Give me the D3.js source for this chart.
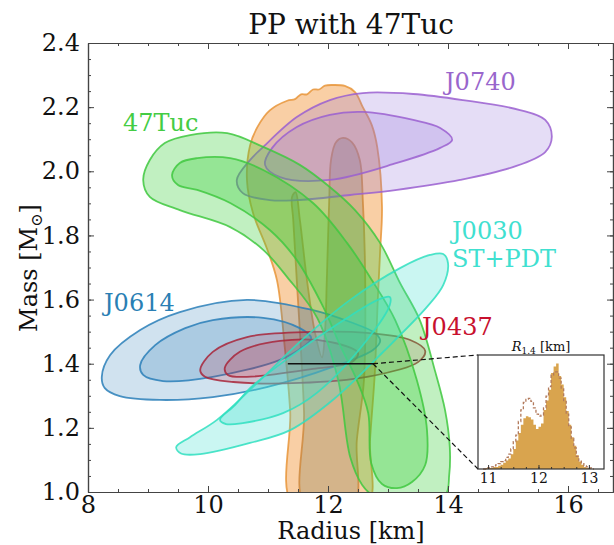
<!DOCTYPE html>
<html>
<head>
<meta charset="utf-8">
<script src="https://cdnjs.cloudflare.com/ajax/libs/d3/7.8.5/d3.min.js"></script>
<style>
body { margin: 0; background: #fff; }
text { font-family: "DejaVu Serif", serif; }
</style>
</head>
<body>
<svg id="chart" width="614" height="545"></svg>
<script>
// ---- data: contours as [radius km, mass Msun] ----
var xTicks = [8, 10, 12, 14, 16];
var yTicks = [1.0, 1.2, 1.4, 1.6, 1.8, 2.0, 2.2, 2.4];

// PP (posterior of the EOS model), 95% and 68%
var ppOuter = [[11.42,0.96],[11.37,1.25],[11.28,1.45],[11.15,1.66],[10.98,1.76],[10.75,1.87],[10.65,1.97],
  [10.70,2.08],[10.83,2.14],[11.03,2.19],[11.32,2.22],[11.45,2.225],[11.55,2.24],[11.65,2.24],[11.75,2.255],
  [11.85,2.255],[11.95,2.267],[12.08,2.269],[12.28,2.266],[12.45,2.247],[12.58,2.20],[12.73,2.144],[12.82,2.076],
  [12.90,1.889],[12.87,1.755],[12.83,1.60],[12.78,1.37],[12.70,1.16],[12.65,0.96]];
var ppInner = [[11.62,0.96],[11.60,1.25],[11.48,1.66],[11.42,1.85],[11.40,1.92],[11.46,1.935],[11.53,1.85],
  [11.65,1.66],[11.78,1.50],[11.90,1.42],[11.95,1.50],[11.98,1.66],[12.02,1.91],[12.05,2.035],[12.13,2.09],
  [12.25,2.104],[12.40,2.09],[12.53,2.035],[12.58,1.91],[12.62,1.66],[12.60,1.35],[12.48,1.16],[12.42,0.96]];

var j0740Outer = [[10.48,1.973],[10.58,1.932],[11.03,1.91],[11.48,1.91],[12.37,1.926],[13.15,1.942],[14.20,1.973],
  [15.08,2.013],[15.62,2.06],[15.73,2.107],[15.62,2.16],[15.20,2.191],[14.25,2.222],[13.42,2.241],[12.58,2.244],
  [12.03,2.222],[11.48,2.169],[10.92,2.076],[10.70,2.035]];
var j0740Inner = [[10.95,2.02],[11.20,1.982],[12.03,1.973],[13.15,2.026],[13.87,2.073],[14.07,2.098],[13.87,2.135],
  [13.42,2.16],[12.58,2.185],[12.03,2.176],[11.48,2.138],[11.07,2.073]];

var tucOuter = [[8.92,1.973],[9.03,2.035],[9.28,2.088],[9.70,2.113],[10.32,2.119],[10.92,2.076],[11.53,2.02],
  [12.03,1.951],[12.45,1.879],[12.87,1.776],[13.20,1.652],[13.53,1.536],[13.78,1.38],[13.95,1.256],[14.03,1.14],
  [14.02,1.053],[13.95,0.99],[13.30,0.975],[12.75,0.99],[12.57,1.022],[12.37,1.109],[12.17,1.349],[11.82,1.543],
  [11.32,1.67],[10.92,1.755],[10.37,1.826],[9.53,1.879],[9.03,1.92]];
var tucInner = [[9.40,1.988],[9.53,2.026],[9.82,2.041],[10.37,2.041],[10.92,2.004],[11.75,1.901],[12.32,1.776],
  [12.73,1.661],[13.12,1.536],[13.48,1.349],[13.65,1.193],[13.62,1.084],[13.40,1.031],[13.15,1.012],[12.90,1.025],
  [12.72,1.09],[12.67,1.246],[12.48,1.349],[12.20,1.458],[11.92,1.577],[11.48,1.723],[11.03,1.817],[10.37,1.901],
  [9.82,1.942],[9.50,1.957]];

var j0030Outer = [[9.47,1.14],[9.70,1.171],[10.15,1.225],[10.87,1.349],[11.53,1.468],[12.37,1.599],[13.20,1.698],
  [13.70,1.739],[13.92,1.742],[14.0,1.714],[13.92,1.645],[13.65,1.577],[12.92,1.437],[12.08,1.287],[11.37,1.193],
  [10.70,1.153],[9.87,1.118],[9.55,1.12]];
var j0030Inner = [[10.20,1.225],[10.45,1.271],[10.70,1.324],[11.53,1.443],[12.37,1.549],[12.83,1.599],[13.03,1.608],
  [13.03,1.583],[12.65,1.474],[11.82,1.31],[11.25,1.246],[10.58,1.215],[10.30,1.212]];

var j0614Outer = [[8.23,1.359],[8.37,1.427],[8.87,1.505],[9.53,1.561],[10.65,1.599],[11.75,1.567],[12.37,1.53],
  [12.78,1.496],[12.87,1.471],[12.75,1.443],[12.08,1.39],[10.98,1.327],[10.08,1.296],[9.20,1.287],[8.53,1.299],
  [8.28,1.324]];
var j0614Inner = [[8.87,1.396],[9.12,1.458],[9.62,1.511],[10.08,1.536],[10.92,1.543],[11.53,1.511],[11.72,1.48],
  [11.58,1.452],[11.20,1.412],[10.08,1.359],[9.25,1.346],[8.92,1.365]];

var j0437Outer = [[9.87,1.38],[10.08,1.437],[10.65,1.483],[11.75,1.499],[12.65,1.496],[13.37,1.474],[13.62,1.44],
  [13.50,1.405],[12.65,1.359],[11.53,1.34],[10.42,1.343],[9.95,1.359]];
var j0437Inner = [[10.28,1.387],[10.53,1.437],[11.20,1.471],[12.03,1.468],[12.50,1.433],[12.40,1.405],[11.75,1.384],
  [10.65,1.359],[10.33,1.365]];

// R_1.4 interval drawn at M = 1.4
var r14Range = [11.33, 12.75];
var m14 = 1.4;

// inset histogram of R_1.4 (left bin edges, normalised heights)
var histEdges = [10.90,10.95,11.00,11.05,11.10,11.15,11.20,11.25,11.30,11.35,11.40,11.45,11.50,11.55,11.60,11.65,
  11.70,11.75,11.80,11.85,11.90,11.95,12.00,12.05,12.10,12.15,12.20,12.25,12.30,12.35,12.40,12.45,12.50,12.55,
  12.60,12.65,12.70,12.75,12.80,12.85,12.90,12.95,13.00,13.05,13.10];
var histFilled = [0.00,0.01,0.01,0.01,0.02,0.02,0.03,0.04,0.06,0.08,0.10,0.14,0.19,0.27,0.34,0.42,0.48,0.50,0.49,
  0.47,0.42,0.38,0.40,0.43,0.56,0.65,0.75,0.91,0.97,1.00,0.88,0.80,0.68,0.55,0.42,0.30,0.22,0.13,0.07,0.04,0.02,
  0.01,0.01,0.00,0.00];
var histDashed = [0.00,0.01,0.01,0.02,0.03,0.04,0.05,0.07,0.08,0.11,0.14,0.19,0.26,0.32,0.45,0.56,0.63,0.66,0.67,
  0.64,0.58,0.52,0.50,0.51,0.58,0.69,0.78,0.89,0.92,0.92,0.86,0.76,0.64,0.52,0.40,0.29,0.20,0.12,0.08,0.05,0.03,
  0.02,0.01,0.00,0.00];
var insetTicks = [11, 12, 13];

// ---- layout ----
var svg = d3.select("#chart");
var mLeft = 88, mRight = 613, mTop = 43, mBottom = 492;

var x = d3.scaleLinear().domain([8, 16.75]).range([mLeft, mRight]);
var y = d3.scaleLinear().domain([1.0, 2.4]).range([mBottom, mTop]);

svg.append("clipPath").attr("id", "plotclip")
  .append("rect").attr("x", mLeft).attr("y", mTop).attr("width", mRight - mLeft).attr("height", mBottom - mTop);

var contourLine = d3.line()
  .x(function(d) { return x(d[0]); })
  .y(function(d) { return y(d[1]); })
  .curve(d3.curveCatmullRomClosed.alpha(0.5));

var plot = svg.append("g").attr("clip-path", "url(#plotclip)");

function drawContour(pts, fill, op, stroke) {
  plot.append("path").datum(pts)
    .attr("d", contourLine)
    .attr("fill", fill)
    .attr("fill-opacity", op)
    .attr("stroke", stroke)
    .attr("stroke-opacity", 0.85)
    .attr("stroke-width", 1.8)
    .attr("stroke-linejoin", "round");
}

// order matters: later ones sit on top
drawContour(ppOuter, "#f39f4b", 0.5, "#e8953a");
drawContour(ppInner, "#af996f", 0.5, "#cf8a3e");
drawContour(j0740Outer, "#9370db", 0.24, "#9a5fd0");
drawContour(j0740Inner, "#9370db", 0.24, "#9a5fd0");
drawContour(j0614Outer, "#1f77b4", 0.21, "#2a7fb8");
drawContour(j0614Inner, "#1f77b4", 0.21, "#2a7fb8");
drawContour(j0437Outer, "#c8102e", 0.16, "#a8243a");
drawContour(j0437Inner, "#c8102e", 0.16, "#a8243a");
drawContour(tucOuter, "#32cd32", 0.3, "#40c840");
drawContour(tucInner, "#32cd32", 0.3, "#40c840");
drawContour(j0030Outer, "#40e0d0", 0.28, "#2fdfc0");
drawContour(j0030Inner, "#40e0d0", 0.28, "#2fdfc0");

// ---- axes (ticks pointing inward) ----
function styleAxis(g) {
  g.attr("font-family", "DejaVu Serif").attr("font-size", 24);
  g.selectAll("path, line").attr("stroke", "#444");
  g.select(".domain").attr("stroke-width", 1.2);
}

var xMinor = d3.range(8, 16.76, 0.5);
var yMinor = d3.range(1.0, 2.401, 0.05);

svg.append("g").attr("transform", "translate(0," + mBottom + ")")
  .call(d3.axisBottom(x).tickValues(xMinor).tickSize(-3).tickSizeOuter(0).tickFormat(""))
  .call(styleAxis);
svg.append("g").attr("transform", "translate(0," + mBottom + ")")
  .call(d3.axisBottom(x).tickValues(xTicks).tickSize(-6).tickSizeOuter(0).tickPadding(4).tickFormat(d3.format("d")))
  .call(styleAxis)
  .selectAll("text").attr("fill", "#111");
svg.append("g").attr("transform", "translate(0," + mTop + ")")
  .call(d3.axisTop(x).tickValues(xMinor).tickSize(-3).tickSizeOuter(0).tickFormat(""))
  .call(styleAxis);
svg.append("g").attr("transform", "translate(0," + mTop + ")")
  .call(d3.axisTop(x).tickValues(xTicks).tickSize(-6).tickSizeOuter(0).tickFormat(""))
  .call(styleAxis);

svg.append("g").attr("transform", "translate(" + mLeft + ",0)")
  .call(d3.axisLeft(y).tickValues(yMinor).tickSize(-3).tickSizeOuter(0).tickFormat(""))
  .call(styleAxis);
svg.append("g").attr("transform", "translate(" + mLeft + ",0)")
  .call(d3.axisLeft(y).tickValues(yTicks).tickSize(-6).tickSizeOuter(0).tickPadding(8).tickFormat(d3.format(".1f")))
  .call(styleAxis)
  .selectAll("text").attr("fill", "#111");
svg.append("g").attr("transform", "translate(" + mRight + ",0)")
  .call(d3.axisRight(y).tickValues(yMinor).tickSize(-3).tickSizeOuter(0).tickFormat(""))
  .call(styleAxis);
svg.append("g").attr("transform", "translate(" + mRight + ",0)")
  .call(d3.axisRight(y).tickValues(yTicks).tickSize(-6).tickSizeOuter(0).tickFormat(""))
  .call(styleAxis);

// titles
svg.append("text").attr("x", 351).attr("y", 34).attr("text-anchor", "middle")
  .attr("font-size", 28).attr("fill", "#111").text("PP with 47Tuc");
svg.append("text").attr("x", 351).attr("y", 539).attr("text-anchor", "middle")
  .attr("font-size", 24).attr("fill", "#111").text("Radius [km]");
var ylab = svg.append("text").attr("transform", "translate(37,268) rotate(-90)")
  .attr("text-anchor", "middle").attr("font-size", 24).attr("fill", "#111");
ylab.append("tspan").text("Mass [M");
ylab.append("tspan").attr("font-size", 16).attr("dy", 5).text("\u2299");
ylab.append("tspan").attr("dy", -5).text("]");

// source labels
var labels = [
  {t: "J0740", x: 445, y: 90, c: "#9966cc"},
  {t: "47Tuc", x: 123, y: 131, c: "#44cc44"},
  {t: "J0030", x: 452, y: 239, c: "#40e0d0"},
  {t: "ST+PDT", x: 452, y: 267, c: "#40e0d0"},
  {t: "J0614", x: 104, y: 311, c: "#2a7fb4"},
  {t: "J0437", x: 422, y: 335, c: "#c8102e"}
];
svg.selectAll(".srclabel").data(labels).enter().append("text")
  .attr("class", "srclabel")
  .attr("x", function(d) { return d.x; })
  .attr("y", function(d) { return d.y; })
  .attr("font-size", 24)
  .attr("fill", function(d) { return d.c; })
  .text(function(d) { return d.t; });

// ---- inset ----
var ix = d3.scaleLinear().domain([10.8, 13.3]).range([478, 604]);
var iy = d3.scaleLinear().domain([0, 1.08]).range([469, 355]);

// R_1.4 bar and connectors
svg.append("line")
  .attr("x1", x(r14Range[0])).attr("x2", x(r14Range[1]))
  .attr("y1", y(m14)).attr("y2", y(m14))
  .attr("stroke", "#111").attr("stroke-width", 1.5);
[iy.range()[1], iy.range()[0]].forEach(function(cy) {
  svg.append("line")
    .attr("x1", x(r14Range[1])).attr("y1", y(m14))
    .attr("x2", ix.range()[0]).attr("y2", cy)
    .attr("stroke", "#111").attr("stroke-width", 1.2).attr("stroke-dasharray", "5,3");
});

svg.append("rect").attr("x", 478).attr("y", 355).attr("width", 126).attr("height", 114).attr("fill", "#fff");

var histData = histEdges.map(function(e, i) { return {x: e, f: histFilled[i], d: histDashed[i]}; });

svg.append("path").datum(histData)
  .attr("d", d3.area().curve(d3.curveStepAfter)
    .x(function(d) { return ix(d.x); })
    .y0(iy(0))
    .y1(function(d) { return iy(d.f); }))
  .attr("fill", "#d9a44e");

svg.append("path").datum(histData)
  .attr("d", d3.line().curve(d3.curveStepAfter)
    .x(function(d) { return ix(d.x); })
    .y(function(d) { return iy(d.d); }))
  .attr("fill", "none").attr("stroke", "#b27a5c").attr("stroke-width", 1.3).attr("stroke-dasharray", "3,2");

svg.append("rect").attr("x", 478).attr("y", 355).attr("width", 126).attr("height", 114)
  .attr("fill", "none").attr("stroke", "#333").attr("stroke-width", 1.2);

svg.append("g").attr("transform", "translate(0,469)")
  .call(d3.axisBottom(ix).tickValues(d3.range(11, 13.01, 0.25)).tickSize(-2).tickSizeOuter(0).tickFormat(""))
  .call(function(g) { g.select(".domain").remove(); g.selectAll("line").attr("stroke", "#333"); });
svg.append("g").attr("transform", "translate(0,469)")
  .call(d3.axisBottom(ix).tickValues(insetTicks).tickSize(-4).tickSizeOuter(0).tickPadding(4).tickFormat(d3.format("d")))
  .call(function(g) {
    g.select(".domain").remove();
    g.selectAll("line").attr("stroke", "#333");
    g.attr("font-family", "DejaVu Serif").attr("font-size", 14);
    g.selectAll("text").attr("fill", "#111");
  });

var ititle = svg.append("text").attr("x", 541).attr("y", 351).attr("text-anchor", "middle")
  .attr("font-size", 13).attr("fill", "#111");
ititle.append("tspan").attr("font-style", "italic").text("R");
ititle.append("tspan").attr("font-size", 9).attr("dy", 3).text("1.4");
ititle.append("tspan").attr("dy", -3).text(" [km]");
</script>
</body>
</html>
